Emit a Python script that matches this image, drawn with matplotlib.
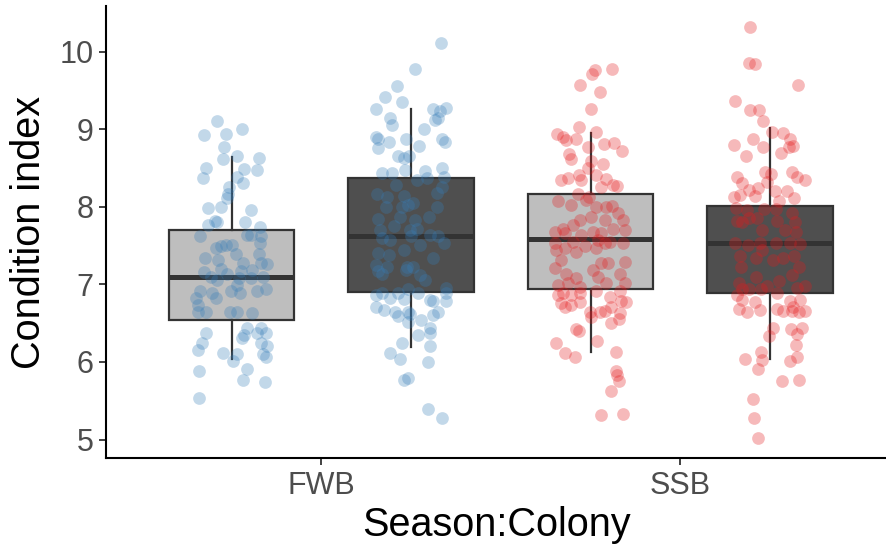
import numpy as np
import matplotlib
matplotlib.use("Agg")
import matplotlib.pyplot as plt

plt.rcParams['font.family'] = ['Liberation Sans', 'DejaVu Sans']

# categories on the x axis, two boxes (light / dark) per season
seasons = ['FWB', 'SSB']
box_pos = [0.75, 1.25, 1.75, 2.25]

# box statistics
q1 = [6.54, 6.90, 6.94, 6.89]
med = [7.10, 7.63, 7.59, 7.53]
q3 = [7.70, 8.37, 8.16, 8.01]
whis_lo = [6.04, 6.19, 6.13, 6.04]
whis_hi = [8.64, 9.26, 8.95, 9.01]
box_fill = ['#BEBEBE', '#4F4F4F', '#BEBEBE', '#4F4F4F']

# jittered points: y values and horizontal jitter (category units)
fwb_light_y = [9.11, 8.93, 8.94, 9.00, 8.77, 8.62, 8.66, 8.63, 8.50, 8.37,
               8.49, 8.48, 8.39, 8.31, 8.26, 8.17, 8.11, 7.98, 8.00, 7.96,
               7.82, 7.80, 7.77, 7.80, 7.74, 7.63, 7.64, 7.64, 7.63, 7.53,
               7.47, 7.49, 7.51, 7.51, 7.39, 7.34, 7.32, 7.39, 7.27, 7.27,
               7.26, 7.16, 7.20, 7.17, 7.19, 7.09, 7.06, 7.14, 7.08, 7.08,
               7.09, 6.91, 6.89, 6.92, 6.89, 6.92, 6.94, 6.82, 6.82, 6.99,
               6.74, 6.65, 6.64, 6.65, 6.65, 6.63, 6.37, 6.25, 6.16, 6.44,
               6.44, 6.35, 6.31, 6.37, 6.37, 6.24, 6.20, 6.10, 6.07, 6.12,
               6.10, 6.01, 5.89, 5.91, 5.77, 5.74, 5.54]
fwb_light_dx = [-.042, -.077, -.016, .029, -.020, -.023, .015, .077, -.072, -.079,
                .034, .070, .016, .033, -.006, -.010, -.012, -.066, -.029, .054,
                -.047, -.040, -.065, .036, .078, -.088, .044, .054, .081, .078,
                -.043, -.031, -.017, .000, .011, -.075, -.037, .076, .033, .082,
                .099, -.077, -.031, .025, .058, -.057, -.040, -.012, .020, .054,
                .086, -.088, -.054, -.003, .023, .070, .096, -.100, -.043, .016,
                -.095, -.094, -.072, -.005, .014, .058, -.072, -.082, -.095, .044,
                .081, .034, .030, .071, .095, .081, .099, .086, .096, -.023,
                .014, .004, -.091, .044, .033, .093, -.090]

fwb_dark_y = [10.11, 9.78, 9.56, 9.42, 9.35, 9.26, 9.26, 9.28, 9.23, 9.15,
              9.12, 9.15, 9.06, 9.00, 8.90, 8.88, 8.76, 8.83, 8.87, 8.79,
              8.88, 8.84, 8.65, 8.63, 8.66, 8.47, 8.43, 8.43, 8.46, 8.37,
              8.50, 8.39, 8.35, 8.28, 8.26, 8.18, 8.17, 8.13, 8.14, 8.02,
              8.05, 8.00, 8.00, 8.00, 7.84, 7.87, 7.83, 7.87, 7.70, 7.75,
              7.70, 7.72, 7.60, 7.57, 7.62, 7.64, 7.62, 7.53, 7.51, 7.40,
              7.38, 7.44, 7.34, 7.25, 7.23, 7.23, 7.23,
              7.17, 7.14, 7.18, 7.12, 7.06, 6.89, 6.86, 6.82, 6.89, 6.81,
              6.94, 6.89, 6.80, 6.78, 6.96, 6.89, 6.78, 6.71, 6.67, 6.65,
              6.59, 6.64, 6.62, 6.52, 6.54, 6.61, 6.65, 6.44, 6.37, 6.35,
              6.24, 6.20, 6.11, 6.04, 6.00, 5.77, 5.79, 5.40, 5.28]
fwb_dark_dx = [.084, .011, -.039, -.073, -.026, -.099, .062, .096, .081, .076,
               .067, -.060, -.052, .036, -.099, -.091, -.091, -.061, -.015, .023,
               .085, .095, -.038, -.021, -.005, -.017, -.080, -.054, .039, .044,
               .087, .092, .016, -.043, .085, .072, -.096, -.068, -.021, -.008,
               .006, .073, -.070, -.026, -.091, -.031, .011, .051, -.086, -.047,
               -.003, .016, -.082, -.058, .000, .053, .076, .092, .025, -.091,
               -.063, -.021, .062, -.099, -.068, -.012, .006,
               -.091, -.082, -.014, .025, .039, -.082, -.099, -.060, -.038, -.021,
               -.010, .020, .053, .060, .096, .097, .097, -.097, -.075, -.045,
               -.038, -.010, -.003, -.010, .028, .062, .076, .053, .053, .019,
               -.026, .053, -.058, -.031, .046, -.019, -.008, .046, .085]

ssb_light_y = [9.76, 9.71, 9.78, 9.57, 9.48, 9.26, 9.03, 8.96, 8.94, 8.90,
               8.86, 8.88, 8.81, 8.82, 8.72, 8.77, 8.68, 8.62, 8.59, 8.55,
               8.50, 8.41, 8.41, 8.34, 8.37, 8.35, 8.36, 8.25, 8.28, 8.27,
               8.17, 8.13, 8.08, 8.02, 8.09, 8.00, 8.00, 8.01, 7.92, 7.87,
               7.83, 7.83, 7.83, 7.77, 7.72, 7.68, 7.68, 7.66, 7.70, 7.72,
               7.64, 7.66, 7.54, 7.55, 7.57, 7.53, 7.55, 7.44, 7.47, 7.42,
               7.49, 7.47, 7.53, 7.32, 7.21, 7.14, 7.19, 7.27, 7.27, 7.29,
               7.14, 7.08, 7.10,
               6.99, 7.02, 6.97, 7.02, 7.02, 6.91, 6.91, 6.86, 6.89, 6.86,
               6.89, 6.76, 6.71, 6.74, 6.77, 6.84, 6.78, 6.77, 6.71, 6.65,
               6.65, 6.66, 6.63, 6.58, 6.56, 6.50, 6.42, 6.40, 6.24, 6.27,
               6.12, 6.07, 6.13, 5.89, 5.83, 5.75, 5.62, 5.31, 5.33]
ssb_light_dx = [.011, .005, .060, -.029, .027, .002, -.033, .014, -.093, -.077,
                -.070, -.042, .037, .065, .088, -.008, -.060, -.056, .000, .034,
                -.007, -.033, .014, -.082, -.063, -.026, .043, .030, .063, .073,
                -.035, -.005, -.091, -.056, -.012, .016, .043, .060, .076, .000,
                -.031, .039, .090, -.049, -.077, -.100, .006, .030, .095, .063,
                -.026, -.072, -.100, -.049, .020, .090, .053, -.096, -.072, -.040,
                -.017, .016, .039, -.082, -.100, -.068, .006, .030, .048, .095,
                .082, -.040, .020,
                -.091, -.063, -.031, .043, .095, .082, .016, -.091, -.077, -.054,
                -.031, -.082, -.072, -.054, -.029, .053, .085, .098, .058, -.003,
                .025, .039, .082, .002, .079, .058, -.040, -.033, -.096, .018,
                -.072, -.044, .072, .070, .074, .078, .056, .030, .090]

ssb_dark_y = [10.32, 9.86, 9.84, 9.57, 9.37, 9.25, 9.25, 9.11, 8.96, 8.95,
              8.87, 8.88, 8.80, 8.77, 8.78, 8.77, 8.69, 8.65, 8.45, 8.42,
              8.45, 8.39, 8.34, 8.39, 8.31, 8.32, 8.22, 8.24, 8.21, 8.20,
              8.13, 8.15, 8.14, 8.12, 8.08, 7.99, 7.96, 7.97, 7.97, 7.92,
              7.82, 7.80, 7.85, 7.85, 7.82, 7.80, 7.70, 7.70, 7.67, 7.53,
              7.51, 7.53, 7.53, 7.53, 7.52, 7.36, 7.34, 7.44, 7.31, 7.34,
              7.36, 7.23, 7.22,
              7.10, 7.04, 7.02, 7.12, 6.98, 6.95, 6.94, 6.94, 6.94, 6.98,
              6.86, 6.80, 6.89, 6.78, 6.71, 6.80, 6.68, 6.65, 6.77, 6.67,
              6.68, 6.66, 6.66, 6.64, 6.66, 6.44, 6.34, 6.42, 6.44, 6.36,
              6.22, 6.13, 6.04, 6.03, 5.91, 6.01, 6.07, 5.76, 5.77, 5.52,
              5.28, 5.02]
ssb_dark_dx = [-.056, -.060, -.042, .077, -.099, -.055, -.031, -.019, .006, .037,
               .056, -.047, -.100, -.019, .065, .052, .031, -.067, -.014, .003,
               .062, .076, .097, -.093, -.079, -.009, -.058, -.033, .014, .048,
               -.102, -.085, -.042, .067, .026, -.095, -.065, -.017, .017, .060,
               -.093, -.079, -.058, -.037, .020, .070, -.023, .042, .072, -.097,
               -.063, -.028, .017, .056, .084, -.084, -.039, -.023, .009, .037,
               .067, -.082, .079,
               -.039, .026, -.088, .060, .096, .075, -.079, -.058, -.026, -.009,
               -.093, -.079, .020, .056, .065, .084, -.088, -.065, -.042, -.028,
               .020, .037, .060, .079, .097, .007, -.003, .058, .088, .075,
               .073, -.026, -.070, -.023, -.033, .054, .076, .033, .079, -.047,
               -.044, -.035]

point_y = [fwb_light_y, fwb_dark_y, ssb_light_y, ssb_dark_y]
point_dx = [fwb_light_dx, fwb_dark_dx, ssb_light_dx, ssb_dark_dx]
point_col = ['#377EB8', '#377EB8', '#E41A1C', '#E41A1C']

fig = plt.figure(figsize=(8.87, 5.48), dpi=100)
ax = fig.add_axes([106 / 887, 90 / 548, 781 / 887, 452 / 548])

# boxes
stats = []
for i in range(4):
    stats.append(dict(q1=q1[i], med=med[i], q3=q3[i],
                      whislo=whis_lo[i], whishi=whis_hi[i], fliers=[]))
bp = ax.bxp(stats, positions=box_pos, widths=0.35, patch_artist=True,
            showcaps=False, showfliers=False, manage_ticks=False,
            boxprops=dict(edgecolor='#333333', linewidth=1.6),
            whiskerprops=dict(color='#333333', linewidth=1.6),
            medianprops=dict(color='#333333', linewidth=3.6, solid_capstyle='butt'))
for patch, c in zip(bp['boxes'], box_fill):
    patch.set_facecolor(c)
    patch.set_zorder(2)
for ln in bp['whiskers'] + bp['medians']:
    ln.set_zorder(2.5)

# jittered points on top
for pos, ys, dxs, c in zip(box_pos, point_y, point_dx, point_col):
    xs = pos + np.array(dxs)
    ax.scatter(xs, ys, s=84, color=c, alpha=0.3, linewidths=0, zorder=3)

ax.set_xlim(0.4, 0.4 + 781 / 359)
ax.set_ylim(4.762, 10.589)
ax.set_xticks([1, 2])
ax.set_xticklabels(seasons)
ax.set_yticks([5, 6, 7, 8, 9, 10])

for side in ['top', 'right']:
    ax.spines[side].set_visible(False)
for side in ['left', 'bottom']:
    ax.spines[side].set_linewidth(1.5)
    ax.spines[side].set_color('black')

ax.tick_params(axis='both', length=5, width=1.3, color='#333333',
               labelsize=22, labelcolor='#4D4D4D', pad=4)

ax.set_xlabel('Season:Colony', fontsize=28.5, color='black', labelpad=4)
ax.set_ylabel('Condition index', fontsize=28.5, color='black', labelpad=8)

fig.savefig('out.png', dpi=100)
